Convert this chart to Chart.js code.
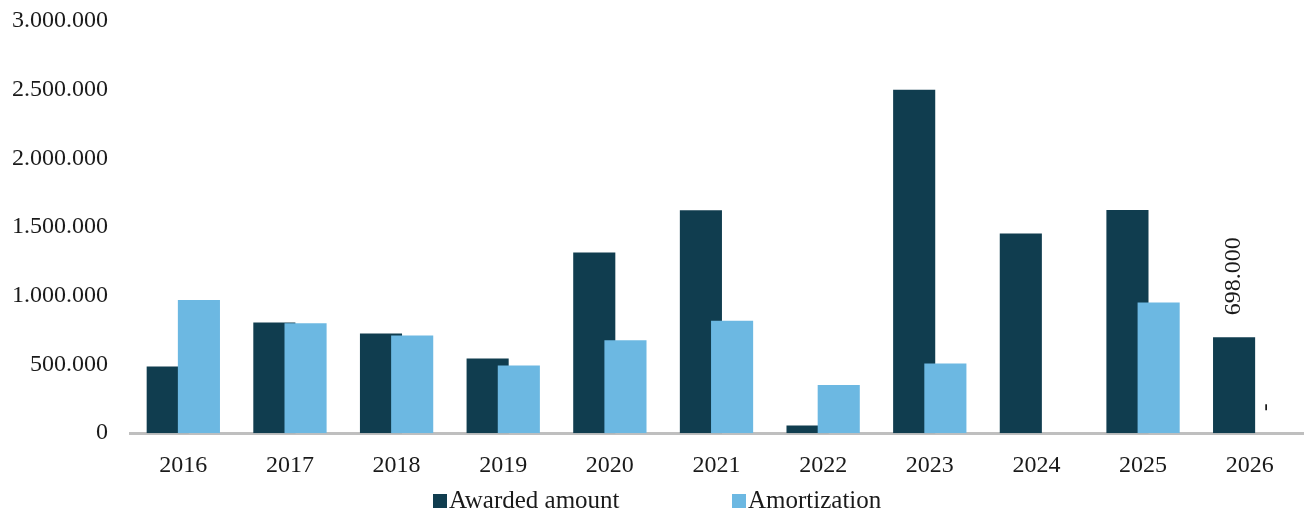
<!DOCTYPE html>
<html>
<head>
<meta charset="utf-8">
<script src="https://cdn.jsdelivr.net/npm/chart.js@4.4.1/dist/chart.umd.min.js"></script>
<style>
  html, body { margin: 0; padding: 0; background: #ffffff; }
  #wrap { width: 1306px; height: 516px; position: relative; }
</style>
</head>
<body>
<div id="wrap"><canvas id="chart" width="1306" height="516"></canvas></div>
<script>
// ---- data ----
const categories = ['2016', '2017', '2018', '2019', '2020', '2021', '2022', '2023', '2024', '2025', '2026'];
const awardedAmount = [485000, 806000, 726000, 544000, 1316000, 1622000, 56000, 2500000, 1454000, 1624000, 698000];
const amortization = [970000, 801000, 711000, 493000, 677000, 818000, 350000, 507000, 0, 952000, 0];
const seriesNames = ['Awarded amount', 'Amortization'];
const yTickValues = [0, 500000, 1000000, 1500000, 2000000, 2500000, 3000000];
const labeledCategories = ['2026'];

// ---- style ----
const FONT_FAMILY = '"Liberation Serif", "Times New Roman", serif';
const TEXT_COLOR = '#1a1a1a';
const DARK = '#103d4f';
const LIGHT = '#6cb8e2';

function fmt(v) {
  if (v === 0) return '0';
  return String(Math.round(v)).replace(/\B(?=(\d{3})+(?!\d))/g, '.');
}

const valueLabels = {
  id: 'valueLabels',
  afterDatasetsDraw(chart) {
    const ctx = chart.ctx;
    ctx.save();
    ctx.font = '24px ' + FONT_FAMILY;
    ctx.fillStyle = TEXT_COLOR;
    ctx.textAlign = 'left';
    ctx.textBaseline = 'middle';
    [0, 1].forEach(di => {
      const meta = chart.getDatasetMeta(di);
      labeledCategories.forEach(cat => {
        const idx = categories.indexOf(cat);
        const el = meta.data[idx];
        const v = chart.data.datasets[di].data[idx];
        const txt = v === 0 ? '-' : fmt(v);
        ctx.save();
        ctx.translate(el.x, el.y - 22);
        ctx.rotate(-Math.PI / 2);
        ctx.fillText(txt, 0, 0);
        ctx.restore();
      });
    });
    ctx.restore();
  }
};

const bottomLegend = {
  id: 'bottomLegend',
  afterDraw(chart) {
    const ctx = chart.ctx;
    const cx = chart.width / 2;
    const starts = [cx - 220, cx + 79];
    const baseline = chart.height - 8;
    ctx.save();
    ctx.font = '25px ' + FONT_FAMILY;
    ctx.textAlign = 'left';
    ctx.textBaseline = 'alphabetic';
    [0, 1].forEach((di, k) => {
      const ds = chart.data.datasets[di];
      ctx.fillStyle = ds.backgroundColor;
      ctx.fillRect(starts[k], baseline - 14, 14, 14);
      ctx.fillStyle = TEXT_COLOR;
      ctx.fillText(ds.label, starts[k] + 16, baseline);
    });
    ctx.restore();
  }
};

new Chart(document.getElementById('chart'), {
  type: 'bar',
  data: {
    labels: categories,
    datasets: [
      { label: seriesNames[0], data: awardedAmount, backgroundColor: DARK, order: 2, stack: 'a',
        categoryPercentage: 0.585, barPercentage: 1.35 },
      { label: seriesNames[1], data: amortization, backgroundColor: LIGHT, order: 1, stack: 'b',
        categoryPercentage: 0.585, barPercentage: 1.35 },
      // empty helper so that the light series sits right of and above the dark one
      { label: '', data: categories.map(() => null), backgroundColor: 'rgba(0,0,0,0)', order: 0, stack: 'a',
        categoryPercentage: 0.585, barPercentage: 1.35 }
    ]
  },
  options: {
    responsive: false,
    animation: false,
    devicePixelRatio: 1,
    layout: { padding: { left: 0, right: 3, top: 21, bottom: 18 } },
    plugins: {
      legend: { display: false },
      tooltip: { enabled: false },
      title: { display: false }
    },
    scales: {
      x: {
        grid: { display: false, drawTicks: false },
        border: { display: true, color: '#bfbfbf', width: 3 },
        ticks: { color: TEXT_COLOR, font: { family: FONT_FAMILY, size: 24 }, padding: 18, maxRotation: 0 }
      },
      y: {
        stacked: false,
        min: 0,
        max: 3000000,
        grid: { display: false, drawTicks: false },
        border: { display: false },
        afterFit(s) { s.width = 130; s.paddingTop = 0; s.paddingBottom = 0; },
        afterBuildTicks(s) { s.ticks = yTickValues.map(v => ({ value: v })); },
        ticks: {
          color: TEXT_COLOR,
          font: { family: FONT_FAMILY, size: 24 },
          padding: 22,
          callback: (v) => fmt(v)
        }
      }
    }
  },
  plugins: [valueLabels, bottomLegend]
});
</script>
</body>
</html>
